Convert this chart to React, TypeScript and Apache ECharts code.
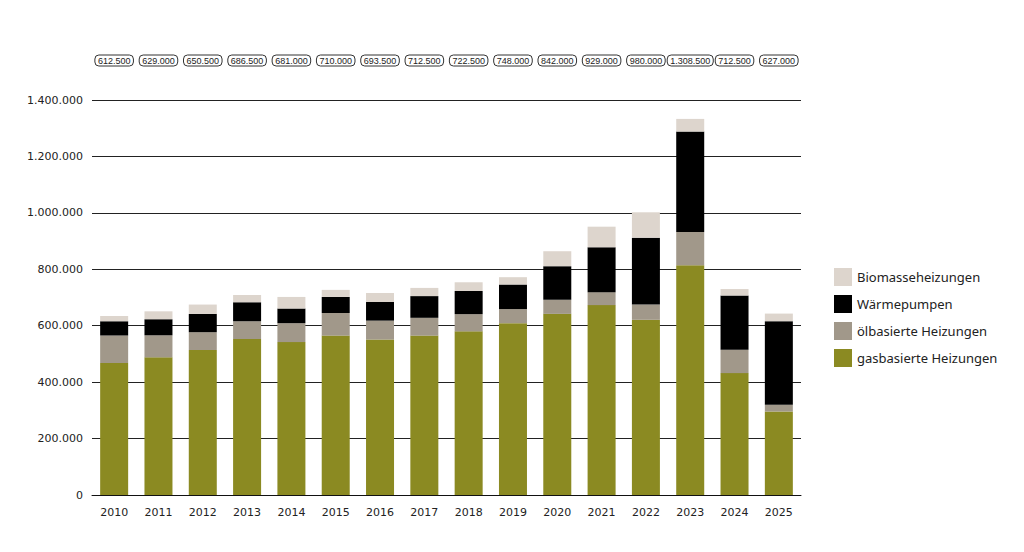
import React, { useEffect, useRef } from "react";
import * as echarts from "echarts";

const years = ["2010","2011","2012","2013","2014","2015","2016","2017","2018","2019","2020","2021","2022","2023","2024","2025"];
const totalLabels = ["612.500","629.000","650.500","686.500","681.000","710.000","693.500","712.500","722.500","748.000","842.000","929.000","980.000","1.308.500","712.500","627.000"];
const gas = [468000,488000,514000,553000,542000,565000,551000,565000,580000,609000,642000,673000,621000,814000,432000,296000];
const oil = [97000,78000,63000,63000,67000,80000,67000,63000,61000,50000,50000,46000,54000,118000,83000,24000];
const heatPump = [51000,57000,65000,67000,52000,57000,66000,77000,82000,87000,119000,159000,237000,356000,192000,296000];
const biomass = [18000,28000,33000,26000,41000,25000,32000,29000,31000,26000,53000,73000,90000,45000,23000,27000];

const fmt = (v: number) => String(Math.round(v)).replace(/\B(?=(\d{3})+(?!\d))/g, ".");

export default function App() {
  const ref = useRef<HTMLDivElement>(null);
  useEffect(() => {
    if (!ref.current) return;
    const chart = echarts.init(ref.current, null, { renderer: "svg" });
    const barBase = { type: "bar", stack: "total", barWidth: 28 };
    chart.setOption({
      animation: false,
      backgroundColor: "#ffffff",
      textStyle: { fontFamily: "DejaVu Sans" },
      grid: { left: 92, right: 223, top: 100, bottom: 57 },
      legend: {
        orient: "vertical",
        left: 829,
        top: 263,
        itemWidth: 18,
        itemHeight: 18,
        itemGap: 9,
        icon: "rect",
        textStyle: { fontFamily: "Noto Sans", fontSize: 13, color: "#222" },
        data: ["Biomasseheizungen", "Wärmepumpen", "ölbasierte Heizungen", "gasbasierte Heizungen"],
      },
      xAxis: [
        {
          type: "category",
          data: years,
          axisLine: { lineStyle: { color: "#111", width: 1 } },
          axisTick: { show: false },
          axisLabel: { color: "#222", fontSize: 11, margin: 12, fontFamily: "DejaVu Sans" },
        },
        {
          type: "category",
          position: "top",
          data: totalLabels,
          axisLine: { show: false },
          axisTick: { show: false },
          axisLabel: {
            color: "#222",
            fontSize: 9,
            fontFamily: "Liberation Sans",
            margin: 34,
            interval: 0,
            lineHeight: 9,
            borderColor: "#333",
            borderWidth: 1,
            borderRadius: 4,
            padding: [1, 3, 1, 3],
          },
        },
      ],
      yAxis: {
        type: "value",
        min: 0,
        max: 1400000,
        interval: 200000,
        axisLine: { show: false },
        axisTick: { show: false },
        axisLabel: { color: "#222", fontSize: 11, margin: 9, formatter: (v: number) => fmt(v) },
        splitLine: { lineStyle: { color: "#222", width: 1 } },
      },
      series: [
        { ...barBase, name: "gasbasierte Heizungen", data: gas, itemStyle: { color: "#8b8a22" } },
        { ...barBase, name: "ölbasierte Heizungen", data: oil, itemStyle: { color: "#a1988a" } },
        { ...barBase, name: "Wärmepumpen", data: heatPump, itemStyle: { color: "#000000" } },
        { ...barBase, name: "Biomasseheizungen", data: biomass, itemStyle: { color: "#ddd5cd" } },
      ],
    });
    return () => chart.dispose();
  }, []);
  return <div ref={ref} style={{ width: 1024, height: 552, position: "absolute", left: 0, top: 0 }} />;
}
